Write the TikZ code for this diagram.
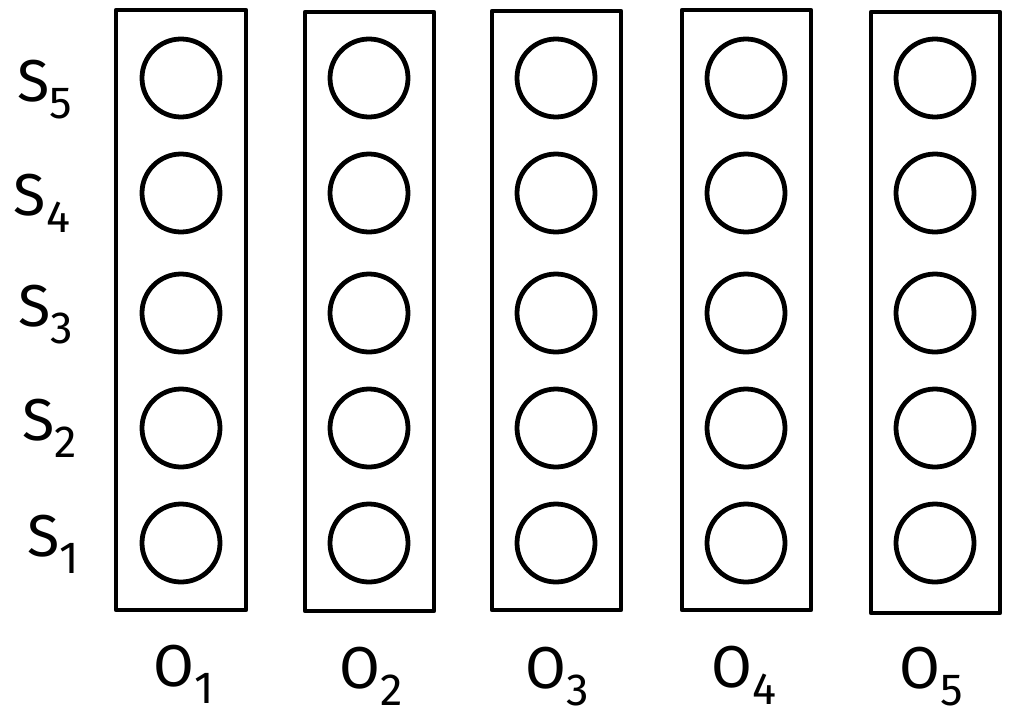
\documentclass[tikz,border=0pt]{standalone}
\usepackage{fontspec}
\setmainfont{Fira Sans}
\newcommand{\lbl}[2]{{\fontsize{42}{42}\selectfont #1}{\fontsize{32}{32}\selectfont\raisebox{-0.38em}{#2}}}
\begin{document}
\begin{tikzpicture}[x=0.025cm,y=-0.025cm]
  \useasboundingbox (0,0) rectangle (1017,718);
  \tikzset{col/.style={black,line width=3pt,line join=round},
           slot/.style={black,line width=3.4pt},
           txt/.style={inner sep=0pt,anchor=center}}

  \coordinate (o1) at (181,0);
  \coordinate (o2) at (369,0);
  \coordinate (o3) at (556,0);
  \coordinate (o4) at (746,0);
  \coordinate (o5) at (935,0);

  \draw[col] (116,10) rectangle (246,610);
  \draw[col] (305,12) rectangle (434,611);
  \draw[col] (492,11) rectangle (621,610);
  \draw[col] (682,10) rectangle (811,610);
  \draw[col] (871,12) rectangle (1000,613);

  \foreach \c in {1,...,5}
    \foreach \r/\y in {5/78,4/193,3/313,2/428,1/543}
      \draw[slot] (o\c |- 0,\y) circle [radius=39];

  \node[txt] (s5) at (45,90) {\lbl{S}{5}};
  \node[txt] (s4) at (42,203) {\lbl{S}{4}};
  \node[txt] (s3) at (46,315) {\lbl{S}{3}};
  \node[txt] (s2) at (50,428) {\lbl{S}{2}};
  \node[txt] (s1) at (53,544) {\lbl{S}{1}};

  \node[txt] (t1) at (184,674) {\lbl{O}{1}};
  \node[txt] (t2) at (371,676) {\lbl{O}{2}};
  \node[txt] (t3) at (557,677) {\lbl{O}{3}};
  \node[txt] (t4) at (744,675) {\lbl{O}{4}};
  \node[txt] (t5) at (931,677) {\lbl{O}{5}};
\end{tikzpicture}
\end{document}
